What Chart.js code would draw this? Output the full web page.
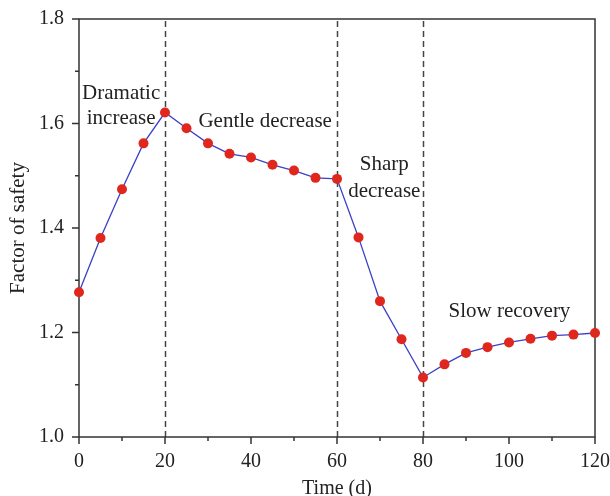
<!DOCTYPE html>
<html>
<head>
<meta charset="utf-8">
<title>Factor of safety over time</title>
<script src="https://cdn.jsdelivr.net/npm/chart.js@4"></script>
<style>
    html, body { margin: 0; padding: 0; background: #fff; }
    #wrap { width: 610px; height: 496px; position: relative; }
</style>
</head>
<body>
<div id="wrap"><canvas id="fosChart"></canvas></div>
<script>
// Time (days) and factor of safety at each step
const days = [0, 5, 10, 15, 20, 25, 30, 35, 40, 45, 50, 55, 60, 65, 70, 75, 80, 85, 90, 95, 100, 105, 110, 115, 120];
const safetyFactor = [1.277, 1.381, 1.474, 1.562, 1.621, 1.591, 1.562, 1.542, 1.535, 1.521, 1.510, 1.496, 1.494,
    1.382, 1.260, 1.187, 1.114, 1.139, 1.161, 1.172, 1.181, 1.188, 1.194, 1.196, 1.199];

// Stage boundaries (dashed lines) and stage captions
const stageBounds = [20, 60, 80];
const stageText = ['Dramatic', 'increase', 'Gentle decrease', 'Sharp', 'decrease', 'Slow recovery'];
const stageTextX = [9.8, 9.8, 43.3, 71.0, 71.0, 100.1];
const stageTextY = [1.657, 1.609, 1.603, 1.521, 1.469, 1.240];

// Axis ticks
const xMajorTicks = [0, 20, 40, 60, 80, 100, 120];
const xMinorTicks = [10, 30, 50, 70, 90, 110];
const yMajorTicks = [1.0, 1.2, 1.4, 1.6, 1.8];
const yMinorTicks = [1.1, 1.3, 1.5, 1.7];

const FONT = '"Liberation Serif", "Times New Roman", serif';
const INK = '#222';
const AXIS = '#333';

const framePlugin = {
    id: 'frame',
    beforeDatasetsDraw(chart) {
        const { ctx, chartArea: a, scales: { x, y } } = chart;
        ctx.save();

        // dashed stage boundaries
        ctx.strokeStyle = '#444';
        ctx.lineWidth = 1.5;
        ctx.setLineDash([6, 4]);
        stageBounds.forEach(d => {
            const px = Math.round(x.getPixelForValue(d)) + 0.5;
            ctx.beginPath();
            ctx.moveTo(px, a.bottom);
            ctx.lineTo(px, a.top);
            ctx.stroke();
        });
        ctx.setLineDash([]);

        // box around the plot
        ctx.strokeStyle = AXIS;
        ctx.lineWidth = 1.5;
        ctx.strokeRect(a.left, a.top, a.right - a.left, a.bottom - a.top);

        // outward tick marks
        ctx.beginPath();
        xMajorTicks.forEach(v => { const p = x.getPixelForValue(v); ctx.moveTo(p, a.bottom); ctx.lineTo(p, a.bottom + 7); });
        xMinorTicks.forEach(v => { const p = x.getPixelForValue(v); ctx.moveTo(p, a.bottom); ctx.lineTo(p, a.bottom + 4); });
        yMajorTicks.forEach(v => { const p = y.getPixelForValue(v); ctx.moveTo(a.left, p); ctx.lineTo(a.left - 7, p); });
        yMinorTicks.forEach(v => { const p = y.getPixelForValue(v); ctx.moveTo(a.left, p); ctx.lineTo(a.left - 4, p); });
        ctx.stroke();

        // stage captions
        ctx.fillStyle = INK;
        ctx.font = '21px ' + FONT;
        ctx.textAlign = 'center';
        ctx.textBaseline = 'middle';
        stageText.forEach((t, i) => {
            ctx.fillText(t, x.getPixelForValue(stageTextX[i]), y.getPixelForValue(stageTextY[i]));
        });
        ctx.restore();
    }
};

new Chart(document.getElementById('fosChart'), {
    type: 'line',
    data: {
        datasets: [{
            data: days.map((d, i) => ({ x: d, y: safetyFactor[i] })),
            borderColor: '#3a41c6',
            borderWidth: 1.3,
            pointBackgroundColor: '#e0271d',
            pointBorderColor: '#e0271d',
            pointBorderWidth: 0,
            pointRadius: 5,
            tension: 0,
            clip: false
        }]
    },
    options: {
        responsive: true,
        maintainAspectRatio: false,
        animation: false,
        events: [],
        layout: { padding: { top: 19, right: 15, left: 0, bottom: 0 } },
        plugins: { legend: { display: false }, tooltip: { enabled: false } },
        scales: {
            x: {
                type: 'linear',
                min: 0,
                max: 120,
                afterFit: s => { s.height = 59; s.paddingLeft = 0; s.paddingRight = 0; },
                afterBuildTicks: s => { s.ticks = xMajorTicks.map(v => ({ value: v })); },
                grid: { display: false, drawTicks: false },
                border: { display: false },
                ticks: { color: INK, font: { family: FONT, size: 20 }, padding: 13, maxRotation: 0 },
                title: { display: true, text: 'Time (d)', color: INK, font: { family: FONT, size: 20, lineHeight: 1 }, padding: { top: 0, bottom: -3 } }
            },
            y: {
                min: 1.0,
                max: 1.8,
                afterFit: s => { s.width = 79; s.paddingTop = 0; s.paddingBottom = 0; },
                afterBuildTicks: s => { s.ticks = yMajorTicks.map(v => ({ value: v })); },
                grid: { display: false, drawTicks: false },
                border: { display: false },
                ticks: { color: INK, font: { family: FONT, size: 20 }, padding: 15, callback: v => v.toFixed(1) },
                title: { display: true, text: 'Factor of safety', color: INK, font: { family: FONT, size: 21, lineHeight: 1 }, padding: { top: 8, bottom: 0 } }
            }
        }
    },
    plugins: [framePlugin]
});
</script>
</body>
</html>
